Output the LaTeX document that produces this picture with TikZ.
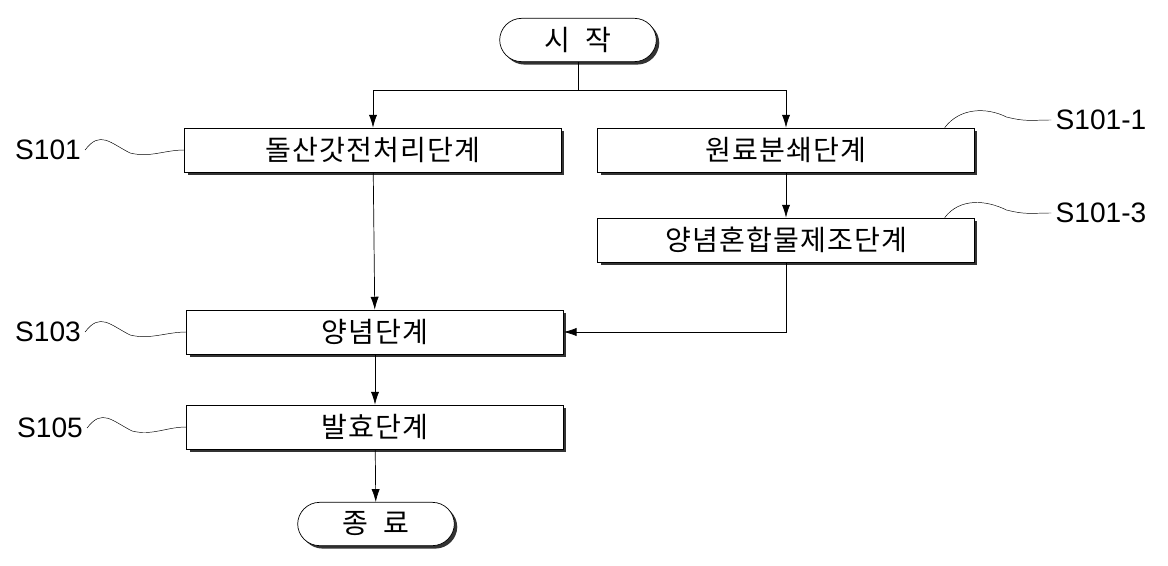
\documentclass[tikz,border=0pt]{standalone}
\usepackage{fontspec}
\setmainfont{Liberation Sans}
\newfontfamily\kofont[LetterSpace=4]{Noto Sans CJK KR}
\usetikzlibrary{shadows,arrows.meta}
\begin{document}
\begin{tikzpicture}
[x=0.03cm,y=-0.03cm,semithick,
  stepBox/.style={draw,fill=white,minimum width=11.3cm,minimum height=1.32cm,
    font=\kofont\fontsize{24}{26}\selectfont,
    drop shadow={shadow xshift=2.5pt,shadow yshift=-2.5pt,fill=black,opacity=0.8}},
  termBox/.style={stepBox,rounded corners=0.66cm,minimum width=4.7cm,minimum height=1.3cm},
  flowArrow/.style={-{Latex[length=11pt,width=7pt]}},
  squiggle/.style={thin},
  stepLabel/.style={font=\fontsize{24}{26}\selectfont}]
\useasboundingbox (0,0) rectangle (1168,566);
%% nodes
\node (start) at (578,40) [termBox] {시\ \ 작};
\node (garlic) at (373,150) [stepBox] {돌산갓전처리단계};
\node (crush) at (786,150) [stepBox] {원료분쇄단계};
\node (mix) at (786,240) [stepBox] {양념혼합물제조단계};
\node (season) at (375,332) [stepBox] {양념단계};
\node (ferment) at (375,427) [stepBox] {발효단계};
\node (finish) at (376,524) [termBox] {종\ \ 료};
%% step labels
\foreach \name/\x/\y/\txt in {l101/48/150/S101, l1011/1101/120/S101-1,
  l1013/1101/213/S101-3, l103/48/332/S103, l105/50/428/S105}
{
  \node (\name) at (\x,\y) [stepLabel] {\txt};
}
%% connectors
\coordinate (split) at (578,90);
\coordinate (join) at (786,332);
\draw (start) -- (split);
\draw[flowArrow] (split) -| (garlic);
\draw[flowArrow] (split) -| (crush);
\draw[flowArrow] (crush) -- (mix);
\draw[flowArrow] (garlic) -- (season);
\draw[flowArrow] (mix.south) |- (season.east);
\draw[flowArrow] (season) -- (ferment);
\draw[flowArrow] (ferment) -- (finish);
%% squiggles
\foreach \name/\target in {l101/garlic, l103/season, l105/ferment}
{
  \draw[squiggle] (\name.east) .. controls +(15,-20) and +(-20,-10) .. +(45,3)
    .. controls +(20,5) and +(-20,0) .. (\target.west);
}
\foreach \name/\target in {l1011/crush, l1013/mix}
{
  \draw[squiggle] (\name.west) .. controls +(-20,0) and +(20,5) .. +(-45,-3)
    .. controls +(-20,-10) and +(15,-20) .. ([xshift=-0.9cm]\target.north east);
}
\end{tikzpicture}
\end{document}
